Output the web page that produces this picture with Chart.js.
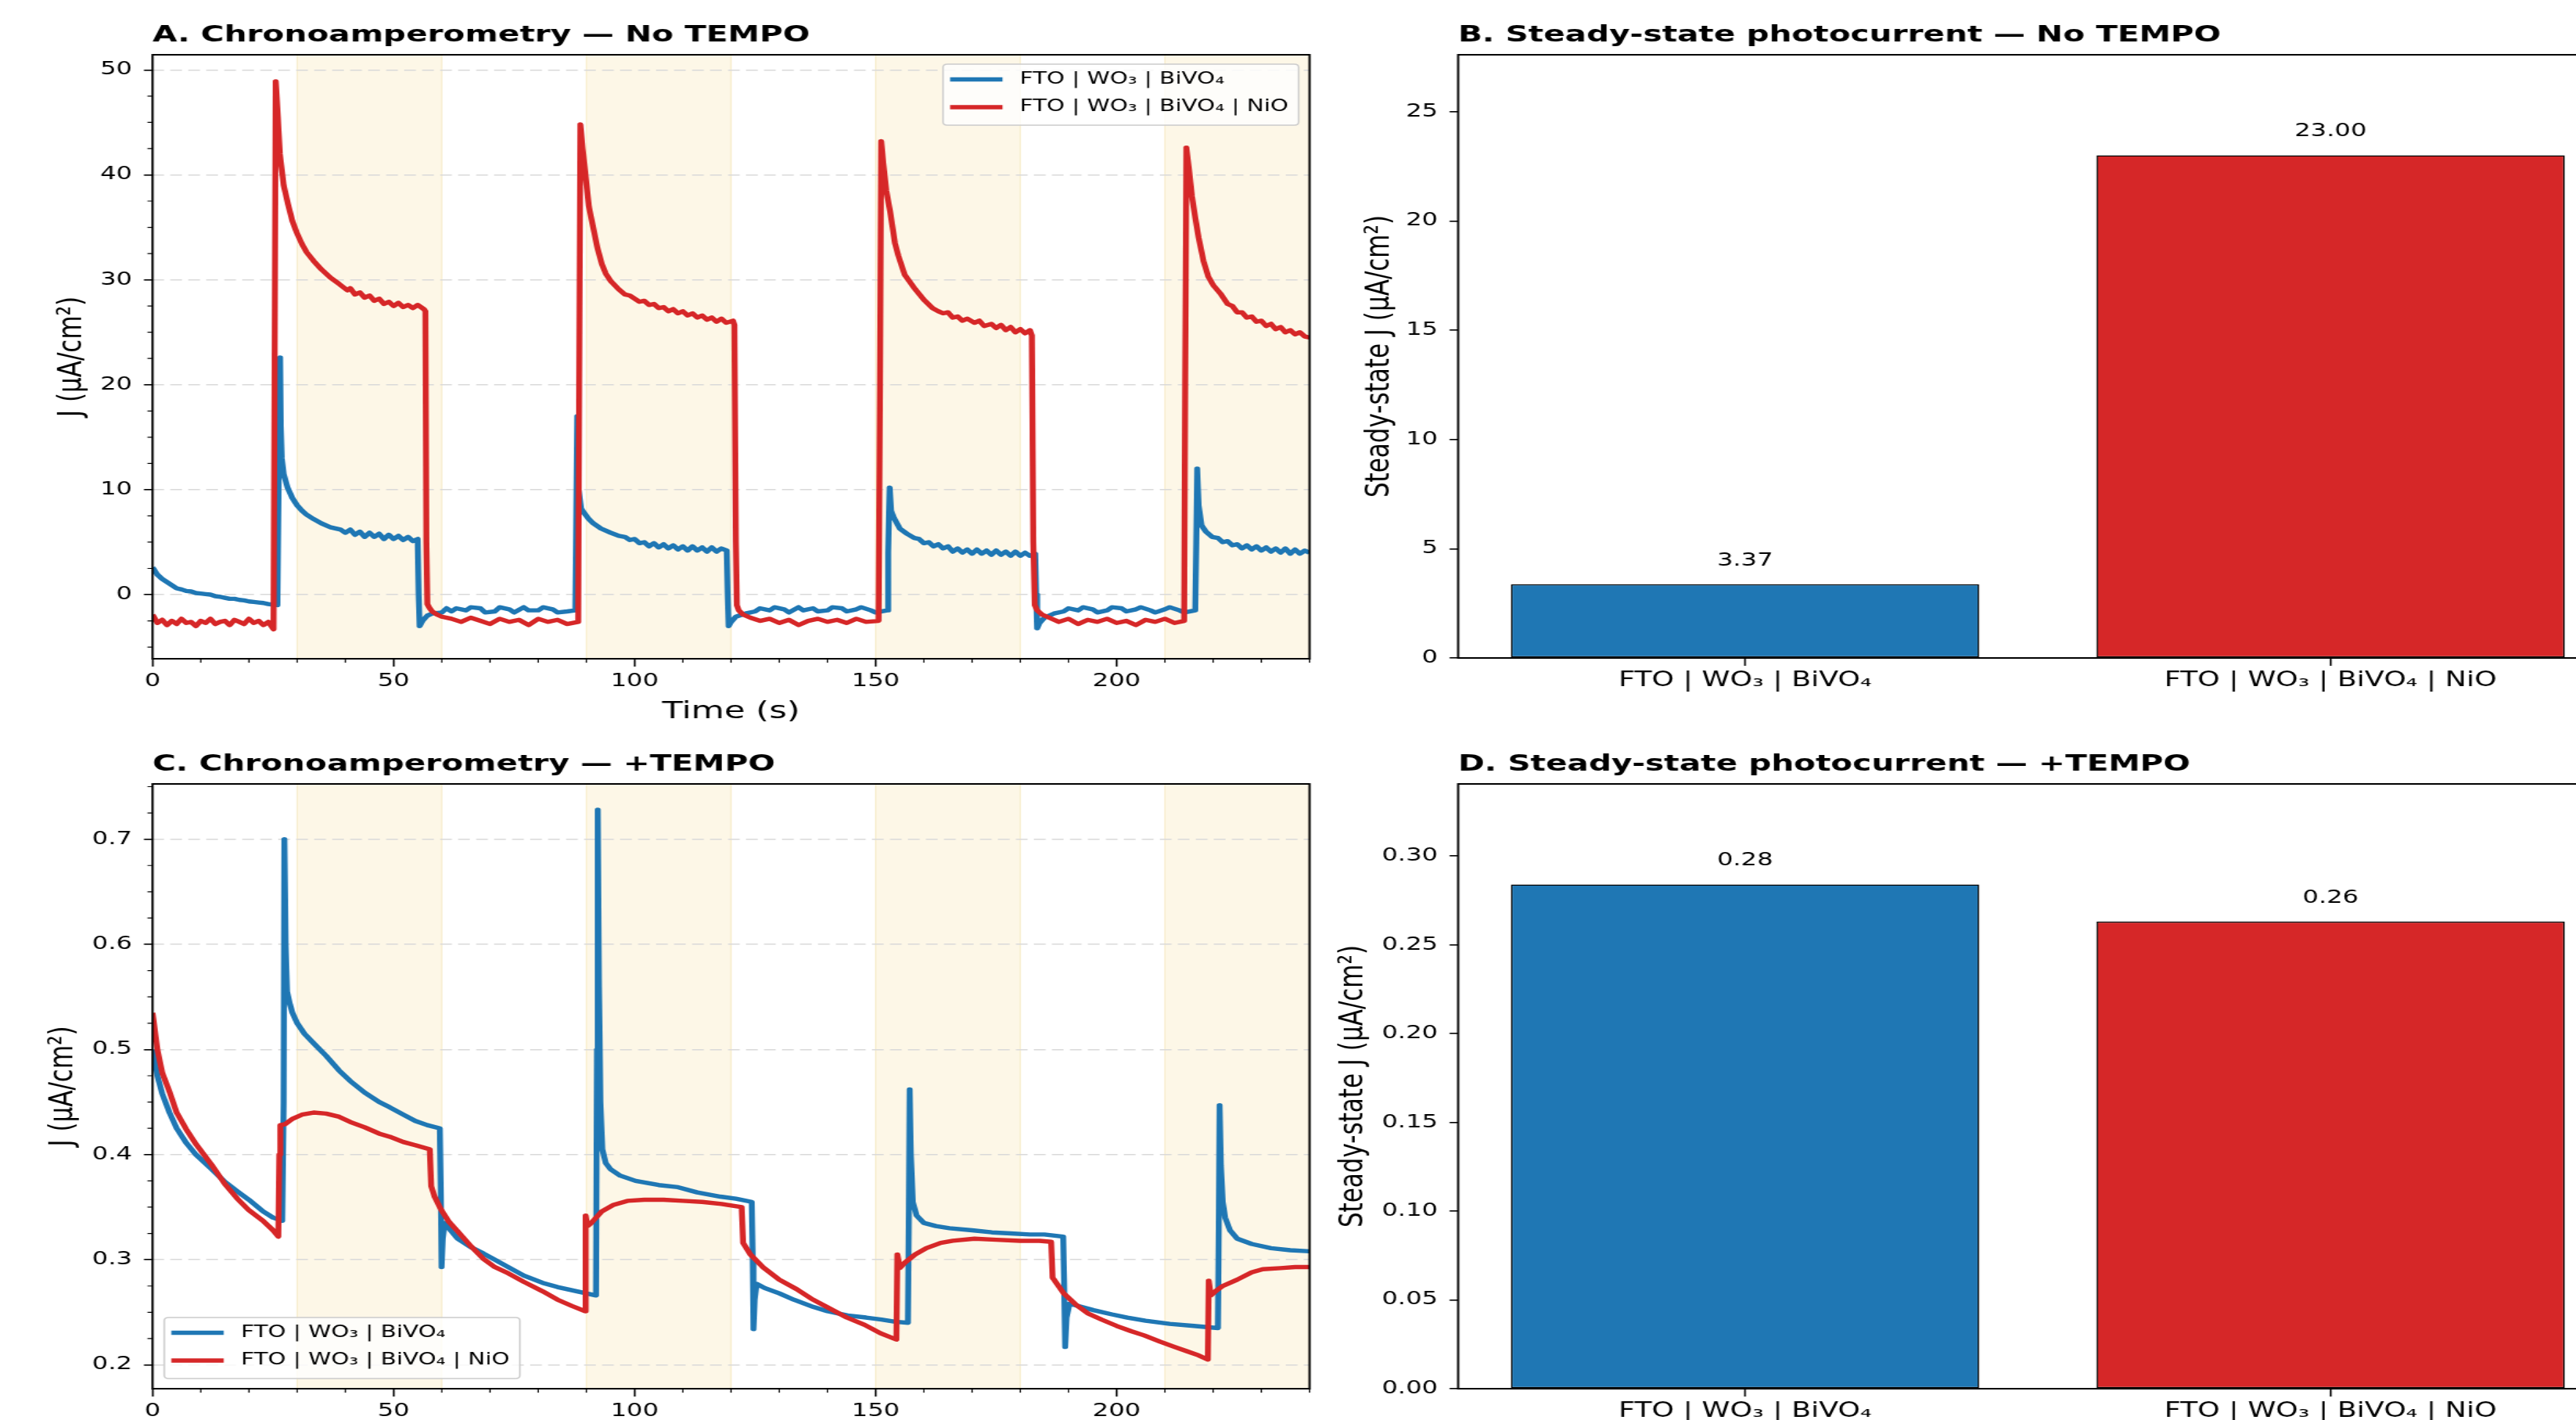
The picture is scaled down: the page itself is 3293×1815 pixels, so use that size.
<!DOCTYPE html>
<html>
<head>
<meta charset="utf-8">
<script src="https://cdn.jsdelivr.net/npm/chart.js@4.4.1/dist/chart.umd.min.js"></script>
<style>
html,body{margin:0;padding:0;background:#fff;width:3293px;height:1815px;overflow:hidden;position:relative}
canvas{position:absolute}
</style>
</head>
<body>
<canvas id="cA"></canvas><canvas id="cB"></canvas><canvas id="cC"></canvas><canvas id="cD"></canvas>
<script>
// ---------------- DATA ----------------
const seriesLabels = ['FTO | WO\u2083 | BiVO\u2084', 'FTO | WO\u2083 | BiVO\u2084 | NiO'];
const categories = ['FTO | WO\u2083 | BiVO\u2084', 'FTO | WO\u2083 | BiVO\u2084 | NiO'];
const lightOn  = [30, 90, 150, 210];
const lightOff = [60, 120, 180, 240];

// Panel A: chronoamperometry, no TEMPO  [time s, J µA/cm²]
const caBare = [[0,2.6],[1,1.9],[2,1.5],[3,1.2],[4,0.9],[5,0.6],[6,0.5],[7,0.35],[8,0.3],[9,0.15],[10,0.1],[11,0.05],[12,0.0],[13,-0.15],[14,-0.2],[15,-0.3],[16,-0.4],[17,-0.4],[18,-0.5],[19,-0.55],[20,-0.65],[21,-0.7],[22,-0.75],[23,-0.8],[24,-0.9],[25,-0.95],[25.9,-1.0],
[26.15,10],[26.45,22.6],[26.6,16],[26.8,13],[27.2,11.5],[28,10.2],[29,9.2],[30,8.5],[31,8.0],[32,7.6],[33.4,7.2],[35,6.8],[37,6.4],[39,6.2],[40,5.9],[41,6.2],[42,5.7],[43,6.0],[44,5.5],[45,5.9],[46,5.5],[47,5.8],[48,5.3],[49,5.7],[50,5.3],[51,5.6],[52,5.2],[53,5.5],[54,5.1],[55.0,5.3],
[55.2,0],[55.4,-3.0],[56,-2.5],[57,-2.0],[58,-1.8],[60,-1.7],[61,-1.3],[62,-1.6],[63,-1.3],[65,-1.5],[66,-1.2],[68,-1.3],[69,-1.7],[71,-1.6],[72,-1.2],[74,-1.4],[75,-1.7],[77,-1.2],[78,-1.5],[80,-1.5],[81,-1.2],[83,-1.4],[84,-1.7],[86,-1.6],[87.7,-1.5],
[87.9,8],[88.1,17.0],[88.4,10],[88.9,8.2],[89.5,7.8],[90.5,7.2],[91.4,6.8],[93,6.3],[95,5.9],[96.7,5.6],[98,5.5],[99,5.2],[100,5.3],[101,4.9],[102,5.0],[103,4.6],[104,4.9],[105,4.5],[106,4.8],[107,4.4],[108,4.7],[109,4.3],[110,4.6],[111,4.2],[112,4.6],[113,4.2],[114,4.5],[115,4.1],[116,4.5],[117,4.1],[118,4.4],[119.1,4.2],
[119.3,0],[119.5,-3.0],[120,-2.6],[121,-2.1],[123,-1.8],[125,-1.6],[126,-1.3],[128,-1.5],[129,-1.2],[131,-1.4],[132,-1.7],[134,-1.2],[135,-1.5],[137,-1.3],[138,-1.6],[140,-1.5],[141,-1.2],[143,-1.3],[144,-1.6],[146,-1.4],[147,-1.2],[149,-1.5],[150,-1.7],[152.4,-1.5],
[152.6,4],[152.9,10.2],[153.2,8],[153.8,7.3],[155,6.3],[156.5,5.8],[158,5.4],[159,5.3],[160,4.9],[161,5.0],[162,4.6],[163,4.8],[164,4.4],[165,4.6],[166,4.1],[167,4.4],[168,4.0],[169,4.3],[170,3.9],[171,4.3],[172,3.9],[173,4.2],[174,3.8],[175,4.2],[176,3.8],[177,4.1],[178,3.7],[179,4.1],[180,3.7],[181,4.0],[182,3.7],[183.1,3.9],
[183.3,0],[183.5,-3.2],[184,-2.7],[185,-2.2],[187,-1.8],[189,-1.6],[190,-1.3],[192,-1.5],[193,-1.2],[195,-1.4],[196,-1.7],[198,-1.5],[199,-1.2],[201,-1.3],[202,-1.6],[204,-1.4],[205,-1.2],[207,-1.5],[208,-1.7],[210,-1.4],[211,-1.2],[213,-1.5],[214,-1.7],[216.3,-1.5],
[216.5,5],[216.7,12.0],[217.0,8.5],[217.6,6.6],[218.5,6.0],[219.8,5.5],[221,5.4],[222,5.0],[223,5.1],[224,4.7],[225,4.8],[226,4.4],[227,4.7],[228,4.3],[229,4.6],[230,4.2],[231,4.5],[232,4.1],[233,4.4],[234,4.0],[235,4.4],[236,3.9],[237,4.3],[238,3.9],[239,4.2],[240,4.0]];

const caNio = [[0,-1.9],[1,-2.7],[2,-2.4],[3,-2.9],[4,-2.5],[5,-2.8],[6,-2.3],[7,-2.7],[8,-2.6],[9,-3.0],[10,-2.5],[11,-2.7],[12,-2.3],[13,-2.8],[14,-2.6],[15,-2.5],[16,-2.9],[17,-2.4],[18,-2.6],[19,-2.8],[20,-2.3],[21,-2.7],[22,-2.5],[23,-2.9],[24,-2.6],[25.1,-3.3],
[25.3,20],[25.55,48.9],[26.0,45.5],[26.4,42],[27.2,39],[28.1,37.2],[29,35.6],[29.9,34.5],[31,33.4],[32,32.6],[33.4,31.8],[35,31],[36.9,30.2],[38.7,29.6],[40.4,29.0],[41,29.2],[42,28.6],[43,28.8],[44,28.3],[45,28.5],[46,28.0],[47,28.2],[48,27.7],[49,27.9],[50,27.5],[51,27.8],[52,27.4],[53,27.6],[54,27.3],[55,27.6],[56.3,27.2],[56.6,27.0],
[56.8,5],[57.0,-0.9],[57.5,-1.3],[58,-1.6],[59,-1.9],[60,-2.1],[62,-2.3],[64,-2.6],[66,-2.2],[68,-2.5],[70,-2.8],[72,-2.3],[74,-2.6],[76,-2.4],[78,-2.9],[80,-2.3],[82,-2.6],[84,-2.4],[86,-2.8],[88.3,-2.6],
[88.5,20],[88.75,44.8],[89.2,42.5],[89.7,40.5],[90.5,37],[91.4,35],[92.3,33],[93.2,31.5],[94,30.6],[95,29.9],[96.7,29.1],[98,28.6],[99,28.5],[100,28.2],[101,27.9],[102,28.0],[103,27.6],[104,27.7],[105,27.3],[106,27.4],[107,27.0],[108,27.2],[109,26.8],[110,27.0],[111,26.6],[112,26.8],[113,26.4],[114,26.6],[115,26.2],[116,26.4],[117,26.0],[118,26.3],[119,25.9],[120.4,26.1],[120.7,25.7],
[121.0,5],[121.2,-1.0],[121.6,-1.5],[122.5,-1.9],[124,-2.2],[126,-2.5],[128,-2.3],[130,-2.7],[132,-2.4],[134,-2.9],[136,-2.5],[138,-2.3],[140,-2.6],[142,-2.4],[144,-2.7],[146,-2.3],[148,-2.6],[150.6,-2.5],
[150.9,20],[151.15,43.2],[151.6,41],[152.2,38.5],[153,36.5],[154,33.5],[154.7,32.3],[156,30.5],[158.2,29.1],[160,28.1],[161.8,27.3],[163,27.0],[164,26.8],[165,26.9],[166,26.4],[167,26.5],[168,26.1],[169,26.3],[170.5,25.9],[171.5,26.1],[172.5,25.6],[174,25.8],[175,25.4],[176,25.7],[177,25.2],[178,25.5],[179,25.0],[180,25.3],[181,24.9],[182,25.2],[182.4,24.7],
[182.7,5],[183.0,-1.0],[183.5,-1.5],[184.5,-1.9],[186,-2.2],[188,-2.6],[190,-2.3],[192,-2.8],[194,-2.4],[196,-2.6],[198,-2.3],[200,-2.7],[202,-2.5],[204,-2.9],[206,-2.4],[208,-2.6],[210,-2.3],[212,-2.7],[214.0,-2.5],
[214.2,20],[214.45,42.6],[215,40.5],[215.6,38],[216.3,35.9],[217,34],[218,31.8],[219,30.3],[220,29.5],[221.5,28.7],[223,27.7],[224,27.5],[225,26.9],[226,26.9],[227,26.4],[228,26.5],[229,26.0],[230,26.1],[231,25.6],[232,25.8],[233,25.3],[234,25.5],[235,25.0],[236,25.2],[237,24.8],[238,25.0],[239,24.6],[240,24.5]];

// Panel C: chronoamperometry, +TEMPO
const ccBare = [[0,0.500],[1,0.475],[2,0.458],[3.5,0.440],[5,0.425],[7,0.411],[9,0.400],[12.3,0.386],[15,0.374],[17.6,0.365],[20,0.357],[22.9,0.346],[25,0.340],[26.9,0.337],
[27.2,0.45],[27.35,0.700],[27.6,0.600],[27.9,0.555],[28.5,0.543],[29,0.535],[30,0.525],[31.5,0.515],[33.4,0.506],[36,0.494],[38.7,0.480],[41,0.470],[44,0.459],[47,0.450],[49.2,0.445],[52,0.438],[54.5,0.432],[57,0.428],[59.6,0.425],
[59.8,0.36],[59.95,0.293],[60.2,0.320],[60.6,0.335],[62,0.327],[63.3,0.320],[66,0.312],[68.6,0.306],[71,0.300],[73.8,0.293],[77,0.285],[80.9,0.278],[84,0.274],[87.9,0.270],[92.0,0.266],
[92.2,0.50],[92.35,0.728],[92.6,0.56],[92.9,0.45],[93.3,0.405],[94,0.392],[95,0.386],[97,0.380],[100.2,0.375],[105,0.371],[109,0.369],[113,0.364],[117.8,0.360],[121,0.358],[124.3,0.355],
[124.5,0.30],[124.65,0.234],[124.9,0.262],[125.3,0.277],[127,0.273],[130,0.268],[133,0.262],[137.1,0.255],[140,0.251],[144.2,0.247],[148,0.245],[151.2,0.243],[154,0.241],[156.7,0.240],
[156.9,0.35],[157.05,0.462],[157.3,0.400],[157.7,0.355],[158.5,0.342],[160,0.335],[162.5,0.332],[165.3,0.330],[170,0.328],[174.1,0.326],[178,0.325],[182,0.324],[185,0.324],[188.9,0.322],
[189.1,0.28],[189.3,0.217],[189.6,0.245],[190.2,0.258],[192,0.256],[195.2,0.252],[199,0.248],[202.2,0.245],[206,0.242],[211,0.239],[216,0.237],[221.0,0.235],
[221.2,0.35],[221.35,0.447],[221.6,0.39],[222.0,0.355],[222.5,0.340],[223.5,0.328],[225,0.320],[228,0.315],[232,0.311],[236,0.309],[240,0.308]];

const ccNio = [[0,0.535],[1,0.500],[2,0.478],[3.5,0.460],[5,0.440],[7,0.424],[9,0.410],[12.3,0.390],[15,0.372],[17.6,0.358],[20,0.347],[22.9,0.337],[25,0.328],[26.1,0.322],
[26.3,0.40],[26.5,0.428],[27.5,0.429],[29,0.434],[31,0.438],[33.4,0.440],[36,0.439],[38.7,0.436],[41,0.431],[44,0.426],[47,0.420],[49.2,0.417],[52,0.412],[54.5,0.409],[57.5,0.405],
[57.8,0.370],[58.5,0.360],[59.8,0.348],[61.5,0.336],[63.3,0.327],[66,0.313],[68.6,0.301],[71,0.293],[73.8,0.287],[77,0.279],[80.9,0.270],[84,0.262],[87,0.256],[89.7,0.251],
[89.85,0.342],[90.2,0.332],[91,0.335],[92,0.340],[93.2,0.346],[95.5,0.352],[98.5,0.356],[102,0.357],[106,0.357],[110,0.356],[114,0.355],[118,0.353],[122.2,0.350],
[122.5,0.316],[124,0.305],[126.6,0.293],[130,0.281],[133.6,0.272],[137,0.262],[140.7,0.253],[144,0.245],[147.7,0.238],[151,0.230],[154.3,0.224],
[154.5,0.305],[155,0.292],[156,0.297],[158.2,0.305],[160.5,0.311],[163.5,0.316],[166,0.318],[170.5,0.320],[175,0.319],[180,0.318],[184,0.318],[186.4,0.317],
[186.7,0.283],[189,0.268],[191.6,0.257],[194,0.249],[196.9,0.243],[200,0.237],[203,0.232],[205.7,0.228],[209,0.222],[212,0.217],[214.5,0.213],[217,0.209],[218.9,0.205],
[219.1,0.280],[219.5,0.266],[220.5,0.270],[222,0.275],[225,0.281],[228,0.288],[230.3,0.291],[234,0.292],[237,0.293],[240,0.293]];

// Panels B, D: steady-state photocurrent
const ssNoTempo = [3.37, 23.00];
const ssTempo   = [0.284, 0.263];

// Tick values
const xTicksTime = [0, 50, 100, 150, 200];
const yTicksA = [0, 10, 20, 30, 40, 50];
const yTicksB = [0, 5, 10, 15, 20, 25];
const yTicksC = [0.2, 0.3, 0.4, 0.5, 0.6, 0.7];
const yTicksD = [0, 0.05, 0.10, 0.15, 0.20, 0.25, 0.30];

// ---------------- STYLE / LAYOUT ----------------
const S = 1.40;               // horizontal stretch of the figure
const FONT = "'DejaVu Sans', 'Noto Sans', sans-serif";
const BLUE = '#1f77b4', RED = '#d62728';
const TICK_FS = 23, BARTICK_FS = 26, AXT_FS = 31, TITLE_FS = 29, LEG_FS = 21;
const LINE_W = 5.4;
Chart.defaults.font.family = FONT;
Chart.defaults.color = '#000';

function geom(g) {
  const wi = Math.round(g.width / S);
  const sx = g.width / wi;
  return Object.assign({}, g, {
    wi, sx,
    yAxisW: (g.plot.l - g.left) / sx,
    padRight: wi - (g.plot.r - g.left) / sx,
    xAxisH: g.top + g.height - g.plot.b,
    titleSpace: g.plot.t - g.top
  });
}
const G = {
  A: geom({id:'cA', left:0,    top:0,   width:1760, height:940, plot:{l:195,  r:1674, t:70,   b:842}, yTitleX:92}),
  B: geom({id:'cB', left:1680, top:0,   width:1720, height:940, plot:{l:1864, r:3346, t:70,   b:841}, yTitleX:1764}),
  C: geom({id:'cC', left:0,    top:932, width:1760, height:940, plot:{l:195,  r:1674, t:1002, b:1775}, yTitleX:81}),
  D: geom({id:'cD', left:1680, top:932, width:1720, height:940, plot:{l:1864, r:3346, t:1002, b:1775}, yTitleX:1730})
};

function setupCanvas(g) {
  const c = document.getElementById(g.id);
  c.width = g.wi; c.height = g.height;
  c.style.left = g.left + 'px'; c.style.top = g.top + 'px';
  c.style.width = g.width + 'px'; c.style.height = g.height + 'px';
  return c;
}

function titleOpts(g, text) {
  const lh = TITLE_FS * 1.2;
  const centerAbove = 25;
  return {display:true, text, align:'start', fullSize:false, color:'#000',
    font:{size:TITLE_FS, weight:'bold'},
    padding:{top: g.titleSpace - centerAbove - lh/2, bottom: centerAbove - lh/2}};
}

function yScale(g, o) {
  return {
    type:'linear', min:o.min, max:o.max,
    afterBuildTicks: s => { s.ticks = o.ticks.map(v => ({value:v})); },
    afterFit: s => { s.width = g.yAxisW; },
    ticks:{autoSkip:false, font:{size:TICK_FS}, color:'#000', padding:(26 - 11)/g.sx, callback: v => o.fmt(v)},
    grid:{drawOnChartArea:!!o.grid, color:'#d9d9d9', lineWidth:1.6, tickLength:11/g.sx, tickColor:'#000', tickWidth:1.6},
    border:{display:false, dash:[15/g.sx, 8/g.sx]},
    title:{display:true, text:o.title, color:'#000', font:{size:AXT_FS},
      padding:{top:(g.yTitleX - g.left)/g.sx - AXT_FS*0.6, bottom:0}}
  };
}

function xScale(g, o) {
  const fs = o.fs || TICK_FS;
  return {
    type:'linear', min:o.min, max:o.max, offset:false,
    afterBuildTicks: s => { s.ticks = o.ticks.map(v => ({value:v})); },
    afterFit: s => { s.height = g.xAxisH; },
    ticks:{autoSkip:false, maxRotation:0, minRotation:0, font:{size:fs}, color:'#000',
      padding: 29.5 - 10 - fs*0.6, callback: v => o.fmt(v)},
    grid:{offset:false, drawOnChartArea:false, tickLength:10, tickColor:'#000', tickWidth:1.6},
    border:{display:false},
    title:{display:!!o.title, text:o.title || '', color:'#000', font:{size:AXT_FS},
      padding:{top:0, bottom:(g.height - (g.plot.b - g.top)) - 68 - AXT_FS*0.6}}
  };
}

// decoration plugin: light bands, minor ticks, frame, legend, bar labels
const decor = {
  id:'decor',
  beforeDraw(chart, args, o) {
    if (!o.bands) return;
    const {ctx, chartArea:a} = chart, x = chart.scales.x;
    ctx.save();
    for (let i = 0; i < o.bands.on.length; i++) {
      const x1 = x.getPixelForValue(o.bands.on[i]);
      const x2 = x.getPixelForValue(o.bands.off[i]);
      ctx.fillStyle = 'rgba(246,224,160,0.25)';
      ctx.fillRect(x1, a.top, x2 - x1, a.bottom - a.top);
      ctx.strokeStyle = 'rgba(236,210,130,0.35)';
      ctx.lineWidth = 1.2;
      ctx.beginPath();
      ctx.moveTo(x1, a.top); ctx.lineTo(x1, a.bottom);
      ctx.moveTo(x2, a.top); ctx.lineTo(x2, a.bottom);
      ctx.stroke();
    }
    ctx.restore();
  },
  afterDatasetsDraw(chart, args, o) {
    if (!o.barLabels) return;
    const {ctx} = chart;
    const meta = chart.getDatasetMeta(0);
    const vals = chart.data.datasets[0].data;
    ctx.save();
    ctx.font = `${TICK_FS}px ${FONT}`;
    ctx.fillStyle = '#000'; ctx.textAlign = 'center'; ctx.textBaseline = 'middle';
    meta.data.forEach((bar, i) => ctx.fillText(vals[i].y.toFixed(2), bar.x, bar.y - 30));
    ctx.restore();
  },
  afterDraw(chart, args, o) {
    const {ctx, chartArea:a} = chart;
    const sx = o.sx;
    ctx.save();
    if (o.minorX) {
      const x = chart.scales.x;
      ctx.strokeStyle = '#000'; ctx.lineWidth = 1.2;
      ctx.beginPath();
      for (let v = Math.ceil(x.min / o.minorX) * o.minorX; v <= x.max + 1e-9; v += o.minorX) {
        if (o.majorX.some(m => Math.abs(m - v) < 1e-6)) continue;
        const p = x.getPixelForValue(v);
        ctx.moveTo(p, a.bottom); ctx.lineTo(p, a.bottom + 5);
      }
      ctx.stroke();
    }
    if (o.minorY) {
      const y = chart.scales.y;
      ctx.strokeStyle = '#000'; ctx.lineWidth = 1.2;
      ctx.beginPath();
      const n0 = Math.ceil(y.min / o.minorY - 1e-9), n1 = Math.floor(y.max / o.minorY + 1e-9);
      for (let n = n0; n <= n1; n++) {
        const v = n * o.minorY;
        if (o.majorY.some(m => Math.abs(m - v) < o.minorY * 1e-3)) continue;
        const p = y.getPixelForValue(v);
        ctx.moveTo(a.left, p); ctx.lineTo(a.left - 6.5 / sx, p);
      }
      ctx.stroke();
    }
    ctx.strokeStyle = '#000'; ctx.lineWidth = 2;
    ctx.strokeRect(a.left, a.top, a.right - a.left, a.bottom - a.top);
    if (o.legend) {
      ctx.font = `${LEG_FS}px ${FONT}`;
      const items = o.legend.order.map(i => chart.data.datasets[i]);
      const tw = Math.max(...items.map(d => ctx.measureText(d.label).width));
      const padL = 9 / sx, sample = 67 / sx, gap = 22 / sx, padR = 13 / sx;
      const w = padL + sample + gap + tw + padR;
      const h = 78, rowTop = 19.5, rowGap = 35.5;
      let x0, y0;
      if (o.legend.loc === 'upper right') { x0 = a.right - 14 / sx - w; y0 = a.top + 12; }
      else { x0 = a.left + 15 / sx; y0 = a.bottom - 13 - h; }
      const r = 4;
      ctx.beginPath();
      ctx.moveTo(x0 + r, y0); ctx.lineTo(x0 + w - r, y0); ctx.quadraticCurveTo(x0 + w, y0, x0 + w, y0 + r);
      ctx.lineTo(x0 + w, y0 + h - r); ctx.quadraticCurveTo(x0 + w, y0 + h, x0 + w - r, y0 + h);
      ctx.lineTo(x0 + r, y0 + h); ctx.quadraticCurveTo(x0, y0 + h, x0, y0 + h - r);
      ctx.lineTo(x0, y0 + r); ctx.quadraticCurveTo(x0, y0, x0 + r, y0); ctx.closePath();
      ctx.fillStyle = 'rgba(255,255,255,0.8)'; ctx.fill();
      ctx.strokeStyle = '#cccccc'; ctx.lineWidth = 1.5; ctx.stroke();
      items.forEach((d, k) => {
        const cy = y0 + rowTop + k * rowGap;
        ctx.strokeStyle = d.borderColor; ctx.lineWidth = d.borderWidth; ctx.lineCap = 'butt';
        ctx.beginPath(); ctx.moveTo(x0 + padL, cy); ctx.lineTo(x0 + padL + sample, cy); ctx.stroke();
        ctx.fillStyle = '#000'; ctx.textAlign = 'left'; ctx.textBaseline = 'middle';
        ctx.fillText(d.label, x0 + padL + sample + gap, cy);
      });
    }
    ctx.restore();
  }
};

const baseOpts = g => ({
  responsive:false, animation:false, devicePixelRatio:1, events:[],
  layout:{autoPadding:false, padding:{left:0, top:0, right:g.padRight, bottom:0}}
});

function lineChart(g, bare, nio, o) {
  const toXY = arr => arr.map(p => ({x:p[0], y:p[1]}));
  return new Chart(setupCanvas(g), {
    type:'line',
    data:{datasets:[
      {label:seriesLabels[1], data:toXY(nio), borderColor:RED, borderWidth:LINE_W, pointRadius:0, tension:0, fill:false, borderJoinStyle:'round', order:0},
      {label:seriesLabels[0], data:toXY(bare), borderColor:BLUE, borderWidth:LINE_W, pointRadius:0, tension:0, fill:false, borderJoinStyle:'round', order:1}
    ]},
    options:Object.assign(baseOpts(g), {
      scales:{
        x:xScale(g, {min:0, max:240, ticks:xTicksTime, fmt:v => String(v), title:'Time (s)'}),
        y:yScale(g, {min:o.ymin, max:o.ymax, ticks:o.yticks, fmt:o.fmt, title:'J (\u00b5A/cm\u00b2)', grid:true})
      },
      plugins:{
        legend:{display:false}, tooltip:{enabled:false},
        title:titleOpts(g, o.title),
        decor:{sx:g.sx, bands:{on:lightOn, off:lightOff}, minorX:10, majorX:xTicksTime, minorY:o.minorY, majorY:o.yticks,
               legend:{loc:o.legendLoc, order:[1, 0]}}
      }
    }),
    plugins:[decor]
  });
}

function barChart(g, vals, o) {
  return new Chart(setupCanvas(g), {
    type:'bar',
    data:{datasets:[{label:'steady', data:vals.map((v, i) => ({x:i, y:v})),
      backgroundColor:[BLUE, RED], borderColor:'#000', borderWidth:1.5, borderSkipped:false,
      categoryPercentage:1.0, barPercentage:0.8}]},
    options:Object.assign(baseOpts(g), {
      scales:{
        x:xScale(g, {min:-0.49, max:1.49, ticks:categories.map((c, i) => i), fmt:v => categories[v], fs:BARTICK_FS}),
        y:yScale(g, {min:0, max:o.ymax, ticks:o.yticks, fmt:o.fmt, title:'Steady-state J (\u00b5A/cm\u00b2)', grid:false})
      },
      plugins:{
        legend:{display:false}, tooltip:{enabled:false},
        title:titleOpts(g, o.title),
        decor:{sx:g.sx, barLabels:true}
      }
    }),
    plugins:[decor]
  });
}

lineChart(G.A, caBare, caNio, {ymin:-6.11, ymax:51.44, yticks:yTicksA, fmt:v => String(v), minorY:2.5,
  title:'A. Chronoamperometry \u2014 No TEMPO', legendLoc:'upper right'});
barChart(G.B, ssNoTempo, {ymax:27.6, yticks:yTicksB, fmt:v => String(v), title:'B. Steady-state photocurrent \u2014 No TEMPO'});
lineChart(G.C, ccBare, ccNio, {ymin:0.1773, ymax:0.7526, yticks:yTicksC, fmt:v => v.toFixed(1), minorY:0.025,
  title:'C. Chronoamperometry \u2014 +TEMPO', legendLoc:'lower left'});
barChart(G.D, ssTempo, {ymax:0.3406, yticks:yTicksD, fmt:v => v.toFixed(2), title:'D. Steady-state photocurrent \u2014 +TEMPO'});
</script>
</body>
</html>
